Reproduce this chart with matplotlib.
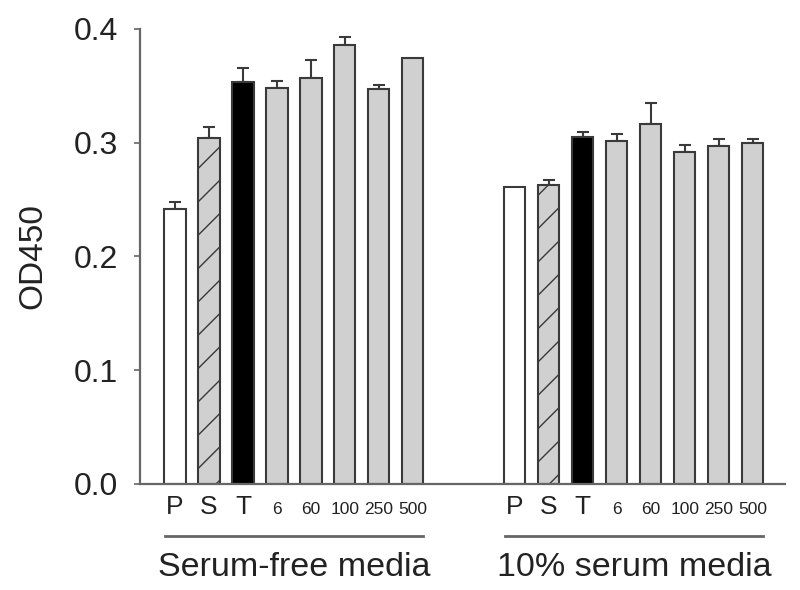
import matplotlib.pyplot as plt
import matplotlib as mpl

mpl.rcParams['font.family'] = ['Liberation Sans', 'DejaVu Sans']
mpl.rcParams['hatch.color'] = '#505050'
mpl.rcParams['hatch.linewidth'] = 1.0

# bar labels and values
labels = ['P', 'S', 'T', '6', '60', '100', '250', '500']
serum_free = [0.242, 0.304, 0.353, 0.348, 0.357, 0.386, 0.347, 0.374]
serum_free_err = [0.006, 0.010, 0.013, 0.006, 0.016, 0.007, 0.004, 0.0]
serum_10 = [0.261, 0.263, 0.305, 0.301, 0.316, 0.292, 0.297, 0.300]
serum_10_err = [0.0, 0.004, 0.004, 0.007, 0.019, 0.006, 0.006, 0.003]
groups = ['Serum-free media', '10% serum media']

faces = ['white', '#d0d0d0', 'black'] + ['#d0d0d0'] * 5
hatches = ['', '/', '', '', '', '', '', '']
edge = '#3a3a3a'
axis_col = '#666666'

fig = plt.figure(figsize=(8, 5.9), dpi=100)
ax = fig.add_axes([0.175, 0.18, 0.806, 0.771])

x1 = list(range(8))
x2 = [i + 10 for i in range(8)]
w = 0.62
for xs, vals, errs in [(x1, serum_free, serum_free_err), (x2, serum_10, serum_10_err)]:
    for x, v, e, fc, h in zip(xs, vals, errs, faces, hatches):
        ax.bar(x, v, w, color=fc, edgecolor=edge, linewidth=1.5, hatch=h, zorder=2)
        if e > 0:
            ax.errorbar(x, v, yerr=[[0], [e]], fmt='none', ecolor=edge,
                        elinewidth=1.5, capsize=4.5, capthick=1.5, zorder=1)

ax.set_xlim(-1.03, 17.94)
ax.set_ylim(0, 0.4)
ax.set_yticks([0.0, 0.1, 0.2, 0.3, 0.4])
ax.set_yticklabels(['0.0', '0.1', '0.2', '0.3', '0.4'], fontsize=23, color='#222222')
fig.text(33 / 800, 1 - 256 / 590, 'OD450', fontsize=24, rotation=90,
         ha='center', va='center', color='#222222')
ax.spines['top'].set_visible(False)
ax.spines['right'].set_visible(False)
for s in ['left', 'bottom']:
    ax.spines[s].set_color(axis_col)
    ax.spines[s].set_linewidth(1.6)
ax.tick_params(axis='y', direction='out', length=4, width=1.2, color=axis_col, pad=12)

ax.set_xticks(x1 + x2)
ax.set_xticklabels(labels + labels)
ax.tick_params(axis='x', length=0, pad=22)
for i, t in enumerate(ax.get_xticklabels()):
    t.set_va('baseline')
    t.set_color('#222222')
    if labels[i % 8] in ('P', 'S', 'T'):
        t.set_fontsize(19)
    else:
        t.set_fontsize(12.5)

trans = ax.get_xaxis_transform()
for xs, name in zip([x1, x2], groups):
    ax.plot([xs[0] - 0.3, xs[-1] + 0.3], [-0.114, -0.114], color=axis_col,
            lw=2, transform=trans, clip_on=False)
    ax.text((xs[0] + xs[-1]) / 2, -0.185, name, fontsize=24.5, ha='center',
            va='center', transform=trans, color='#222222')

fig.savefig('out.png')
